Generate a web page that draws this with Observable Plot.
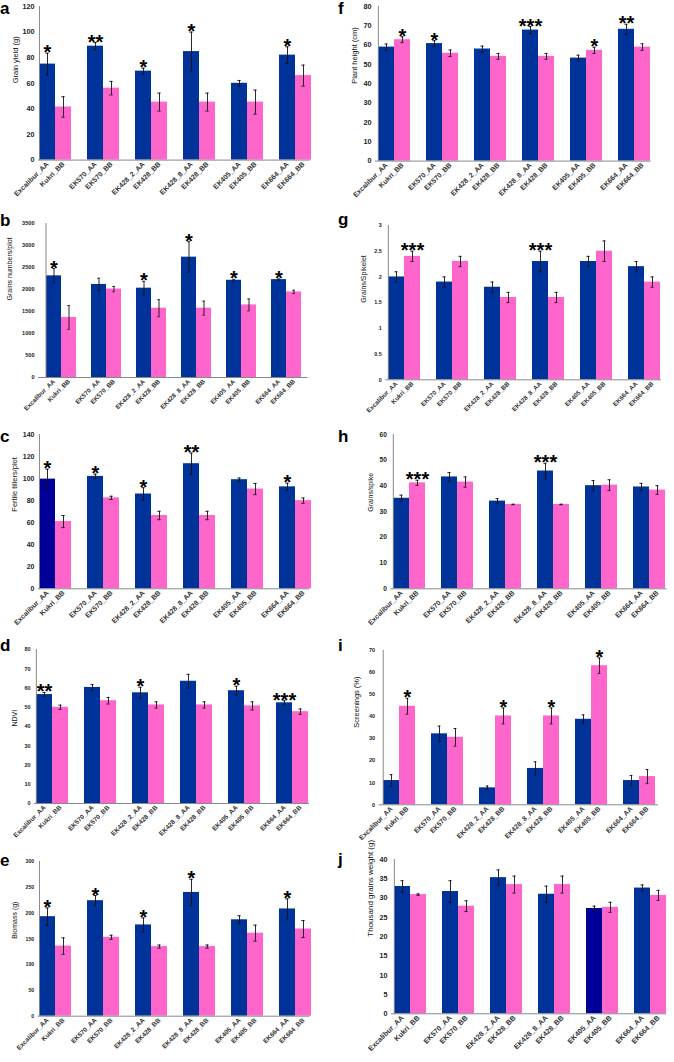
<!DOCTYPE html>
<html><head><meta charset="utf-8">
<script src="https://cdn.jsdelivr.net/npm/d3@7"></script>
<script src="https://cdn.jsdelivr.net/npm/@observablehq/plot@0.6"></script>
<style>
body{margin:0;background:#fff;}
#wrap{position:relative;width:674px;height:1062px;overflow:hidden;font-family:"Liberation Sans",Arial,sans-serif;}
.panel{position:absolute;}
.letter{position:absolute;font-weight:bold;font-size:17px;line-height:1;color:#000;}
</style></head><body><div id="wrap"></div>
<script>
// ---- categories ----
const genotypes = ["Excalibur_AA","Kukri_BB","EK570_AA","EK570_BB","EK428_2_AA","EK428_BB","EK428_8_AA","EK428_BB","EK405_AA","EK405_BB","EK664_AA","EK664_BB"];
const alleles = ["AA","BB","AA","BB","AA","BB","AA","BB","AA","BB","AA","BB"];

// ---- series values (mean, error, significance) ----
const grainYield    = [75, 41.5, 89, 56.2, 69.5, 45.3, 84.8, 45.3, 60, 45.3, 82, 66];
const grainYieldErr = [8.5, 8, 2.8, 5.3, 2.3, 7, 15.2, 7, 2.2, 9.4, 6.5, 8.2];
const grainYieldSig = ["*","","**","","*","","*","","","","*",""];

const grainsPlot    = [2310, 1365, 2115, 2010, 2030, 1575, 2735, 1575, 2210, 1650, 2225, 1945];
const grainsPlotErr = [165, 270, 140, 60, 155, 195, 350, 160, 20, 135, 15, 38];
const grainsPlotSig = ["*","","","","*","","*","","*","","*",""];

const tillers    = [99.5, 61, 102, 82.5, 86, 66.5, 113.5, 66.5, 99, 90.5, 92.5, 80];
const tillersErr = [9, 5.5, 2, 1.5, 5.7, 3.8, 9.7, 3.8, 1.5, 5.1, 3.3, 2.4];
const tillersSig = ["*","","*","","*","","**","","","","*",""];

const ndvi    = [56.6, 50, 60.3, 53.4, 57.5, 51.2, 63.5, 51.2, 58.6, 50.7, 52.3, 47.7];
const ndviErr = [1.1, 1.1, 1.5, 1.7, 2.9, 1.6, 3.6, 1.6, 2.3, 2.1, 1.1, 1.4];
const ndviSig = ["**","","","","*","","","","*","","***",""];

const biomass    = [193, 136, 224, 153, 177, 135, 240, 135, 187, 161, 208, 169];
const biomassErr = [17, 16, 10, 4, 13.6, 3, 25.5, 3, 7.8, 15.5, 19.4, 16.5];
const biomassSig = ["*","","*","","*","","*","","","","*",""];

const plantHeight    = [59, 62.8, 60.8, 55.8, 58, 54.2, 67.8, 54.2, 53.3, 57.3, 68.2, 59];
const plantHeightErr = [1.6, 1.5, 1.5, 1.7, 1.5, 1.5, 1.8, 1.5, 1.5, 1.6, 2.6, 1.7];
const plantHeightSig = ["","*","*","","","","***","","","*","**",""];

const grainsSpikelet    = [2.0, 2.4, 1.9, 2.3, 1.8, 1.6, 2.3, 1.6, 2.3, 2.5, 2.2, 1.9];
const grainsSpikeletErr = [0.1, 0.1, 0.1, 0.1, 0.1, 0.1, 0.2, 0.1, 0.1, 0.2, 0.1, 0.1];
const grainsSpikeletSig = ["","***","","","","","***","","","","",""];

const grainsSpike    = [35.2, 41.2, 43.5, 41.5, 34.1, 32.8, 45.8, 32.8, 40.1, 40.3, 39.6, 38.4];
const grainsSpikeErr = [1.2, 1, 1.7, 2, 1, 0.1, 3, 0.1, 2, 2.1, 1.4, 1.7];
const grainsSpikeSig = ["","***","","","","","***","","","","",""];

const screenings    = [11, 44.7, 32.2, 30.6, 7.7, 40.3, 16.5, 40.3, 38.8, 63.1, 11, 12.8];
const screeningsErr = [2.7, 3.6, 3.5, 4, 0.8, 3.6, 3, 3.6, 2, 3.5, 2.3, 3.2];
const screeningsSig = ["","*","","","","*","","*","","*","",""];

const tgw    = [33, 30.9, 31.7, 27.9, 35.3, 33.5, 31, 33.5, 27.3, 27.6, 32.6, 30.7];
const tgwErr = [1.5, 0.2, 2.8, 1.4, 2, 2.2, 2.1, 2.2, 0.6, 1.3, 0.8, 1.3];
const tgwSig = ["","","","","","","","","","","",""];

// ---- tick labels ----
const ticksA = [0, 20, 40, 60, 80, 100, 120];
const ticksB = [0, 500, 1000, 1500, 2000, 2500, 3000, 3500];
const ticksC = [0, 20, 40, 60, 80, 100, 120, 140];
const ticksD = [0, 10, 20, 30, 40, 50, 60, 70, 80];
const ticksE = [0, 50, 100, 150, 200, 250, 300];
const ticksF = [0, 10, 20, 30, 40, 50, 60, 70, 80];
const ticksG = [0, 0.5, 1, 1.5, 2, 2.5, 3];
const ticksH = [0, 10, 20, 30, 40, 50, 60];
const ticksI = [0, 10, 20, 30, 40, 50, 60, 70];
const ticksJ = [0, 5, 10, 15, 20, 25, 30, 35, 40];

const labels = {a:"Grain yield (g)", b:"Grains numbers/plot", c:"Fertile tillers/plot", d:"NDVI", e:"Biomass (g)",
  f:"Plant height (cm)", g:"Grains/Spikelet", h:"Grains/spike", i:"Screenings (%)", j:"Thousand grains weight (g)"};

// ---- layout (positions / sizes / styles) ----
const panels = [
  {id:"a", v:grainYield, e:grainYieldErr, s:grainYieldSig, t:ticksA, col:0, bar:38, slot:16.1, top:5.7, base:159.3, ldx:-23, tf:7.2, xf:7, lf:7.5, lb:15.4},
  {id:"b", v:grainsPlot, e:grainsPlotErr, s:grainsPlotSig, t:ticksB, col:0, bar:38, slot:15.97, top:222.7, base:376.7, ldx:-28.5, tf:5.6, xf:6.3, lf:7, lb:227},
  {id:"c", v:tillers, e:tillersErr, s:tillersSig, t:ticksC, col:0, bar:38, slot:16.07, top:434, base:588.3, ldx:-24, tf:7, xf:7, lf:7.5, lb:443, dark:0},
  {id:"d", v:ndvi, e:ndviErr, s:ndviSig, t:ticksD, col:0, bar:34, slot:16.29, top:649, base:803, ldx:-20, tf:5.5, xf:6.5, lf:7, lb:652},
  {id:"e", v:biomass, e:biomassErr, s:biomassSig, t:ticksE, col:0, bar:37.7, slot:16.1, top:861, base:1015.7, ldx:-23.7, tf:5.2, xf:6.5, lf:7, lb:867},
  {id:"f", v:plantHeight, e:plantHeightErr, s:plantHeightSig, t:ticksF, col:337, bar:375, slot:16.33, top:5.7, base:160.3, ldx:-20.5, tf:7.3, xf:7, lf:7.5, lb:15.4},
  {id:"g", v:grainsSpikelet, e:grainsSpikeletErr, s:grainsSpikeletSig, t:ticksG, col:337, bar:385.3, slot:16.33, top:225, base:379.3, ldx:-21.6, tf:5.4, xf:6.3, lf:7, lb:226},
  {id:"h", v:grainsSpike, e:grainsSpikeErr, s:grainsSpikeSig, t:ticksH, col:337, bar:390.3, slot:16.37, top:434, base:588.3, ldx:-20, tf:6.6, xf:7, lf:7, lb:443},
  {id:"i", v:screenings, e:screeningsErr, s:screeningsSig, t:ticksI, col:337, bar:378.6, slot:16.56, top:650, base:804.3, ldx:-23, tf:5.5, xf:6.8, lf:7.5, lb:652},
  {id:"j", v:tgw, e:tgwErr, s:tgwSig, t:ticksJ, col:337, bar:391, slot:16.3, top:859, base:1013.3, ldx:-20.7, tf:7.2, xf:7.2, lf:8, lb:866, dark:8}
];

const slotOf = i => 3 * Math.floor(i / 2) + (i % 2);
const barSlots = genotypes.map((g, i) => slotOf(i));
const slotName = {};
genotypes.forEach((g, i) => slotName[slotOf(i)] = g);

const wrap = document.getElementById("wrap");
const FONT = "'Liberation Sans', Arial, sans-serif";

for (const p of panels) {
  const mT = 6, mB = 52, W = 337;
  const mL = p.bar - p.col;
  const mR = W - mL - 17 * p.slot;
  const H = mT + (p.base - p.top) + mB;
  const yMax = p.t[p.t.length - 1];
  const rows = genotypes.map((g, i) => ({idx: i, slot: slotOf(i), name: g, allele: alleles[i], v: p.v[i], e: p.e[i], sig: p.s[i]}));
  const cap = p.slot / 2 - 1.7;
  const svg = Plot.plot({
    width: W, height: H, marginLeft: mL, marginRight: mR, marginTop: mT, marginBottom: mB,
    style: {background: "transparent", overflow: "visible", fontFamily: FONT},
    x: {type: "band", domain: d3.range(17), padding: 0},
    y: {domain: [0, yMax]},
    color: {domain: ["AA", "BB"], range: ["#003399", "#ff66cc"]},
    marks: [
      Plot.barY(rows.filter(d => d.idx !== p.dark), {x: "slot", y: "v", fill: "allele", insetLeft: 0, insetRight: 0}),
      Plot.barY(rows.filter(d => d.idx === p.dark), {x: "slot", y: "v", fill: "#000099", insetLeft: 0, insetRight: 0}),
      Plot.ruleX(rows, {x: "slot", y1: d => d.v - d.e, y2: d => d.v + d.e, stroke: "#111", strokeWidth: 0.9}),
      Plot.tickY(rows, {x: "slot", y: d => d.v + d.e, insetLeft: cap, insetRight: cap, stroke: "#111", strokeWidth: 0.9}),
      Plot.tickY(rows, {x: "slot", y: d => d.v - d.e, insetLeft: cap, insetRight: cap, stroke: "#111", strokeWidth: 0.9}),
      Plot.ruleY([0], {stroke: "#888", strokeWidth: 1, insetRight: 2}),
      Plot.ruleX([0], {dx: -p.slot / 2, stroke: "#888", strokeWidth: 1}),
      Plot.axisY({ticks: p.t, tickSize: 0, tickPadding: 4, tickFormat: d => String(d), fontSize: p.tf, fontWeight: "bold", fill: "#222", label: null}),
      Plot.axisX({ticks: barSlots, tickSize: 0, tickPadding: 3, tickRotate: -45, tickFormat: s => slotName[s], fontSize: p.xf, fontWeight: "bold", fill: "#333", label: null}),
      Plot.text(rows.filter(d => d.sig), {x: "slot", y: d => d.v + d.e, text: "sig", fontSize: 20, fontWeight: "bold", lineAnchor: "bottom", dy: 6, fill: "#000"}),
      Plot.text([labels[p.id]], {frameAnchor: "left", rotate: -90, dx: p.ldx, text: d => d, fontSize: p.lf, fill: "#111"})
    ]
  });
  const div = document.createElement("div");
  div.className = "panel";
  div.style.left = p.col + "px";
  div.style.top = (p.top - mT) + "px";
  div.appendChild(svg);
  wrap.appendChild(div);
  const L = document.createElement("div");
  L.className = "letter";
  L.textContent = p.id;
  L.style.left = (p.col === 0 ? 0 : 338) + "px";
  L.style.top = (p.lb - 15.4) + "px";
  wrap.appendChild(L);
}
</script></body></html>
